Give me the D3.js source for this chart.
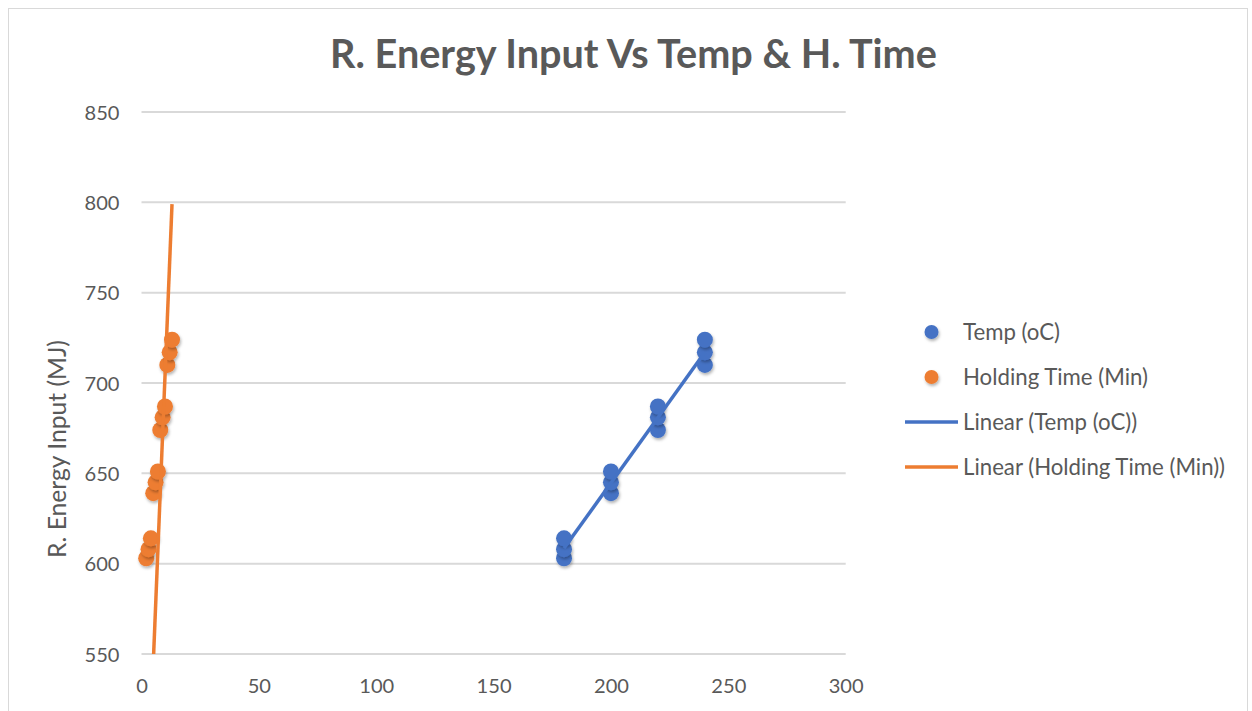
<!DOCTYPE html>
<html>
<head>
<meta charset="utf-8">
<script src="https://cdn.jsdelivr.net/npm/d3@7/dist/d3.min.js"></script>
<style>
  body { margin: 0; background: #fff; }
  text { font-family: Lato, "Open Sans", sans-serif; fill: #595959; }
</style>
</head>
<body>
<div id="vis"></div>
<script>
// Data
var energy = [603, 608, 614, 639, 645, 651, 674, 681, 687, 710, 717, 724];
var temps = [180, 180, 180, 200, 200, 200, 220, 220, 220, 240, 240, 240];
var holdTimes = [2, 3, 4, 5, 6, 7, 8, 9, 10, 11, 12, 13];
var xTicks = [0, 50, 100, 150, 200, 250, 300];
var yTicks = [550, 600, 650, 700, 750, 800, 850];
// holding time trendline as drawn in the chart (end points)
var holdTrendX = [2, 13];
var holdTrendY = [449, 799];
var seriesNames = ['Temp (oC)', 'Holding Time (Min)'];
var trendNames = ['Linear (Temp (oC))', 'Linear (Holding Time (Min))'];

var blue = '#4472C4', orange = '#ED7D31';

var width = 1252, height = 711;
var margin = { top: 112, right: 406, bottom: 57, left: 141.5 };
var drawWidth = 845.7 - margin.left;
var drawHeight = 654 - margin.top;

var svg = d3.select('#vis').append('svg')
    .attr('width', width)
    .attr('height', height);

// chart border
svg.append('rect')
    .attr('x', 8.5).attr('y', 8.5)
    .attr('width', 1239).attr('height', 720)
    .attr('fill', 'none')
    .attr('stroke', '#d9d9d9')
    .attr('stroke-width', 1);

var defs = svg.append('defs');
var shadow = defs.append('filter').attr('id', 'shadow')
    .attr('x', '-50%').attr('y', '-50%').attr('width', '200%').attr('height', '200%');
shadow.append('feDropShadow')
    .attr('dx', 1).attr('dy', 2).attr('stdDeviation', 1.5)
    .attr('flood-color', '#000').attr('flood-opacity', 0.3);
defs.append('clipPath').attr('id', 'plotClip')
    .append('rect').attr('x', 0).attr('y', 0).attr('width', drawWidth).attr('height', drawHeight);

// fit a text's font size so it spans a given width
function fitSize(str, targetWidth, weight) {
    var t = svg.append('text').attr('font-size', 20).attr('font-weight', weight || 'normal').text(str);
    var len = t.node().getComputedTextLength();
    t.remove();
    return 20 * targetWidth / len;
}

var g = svg.append('g')
    .attr('transform', 'translate(' + margin.left + ',' + margin.top + ')');

var xScale = d3.scaleLinear().domain([0, 300]).range([0, drawWidth]);
var yScale = d3.scaleLinear().domain([550, 850]).range([drawHeight, 0]);

// gridlines
g.selectAll('.grid').data(yTicks).enter().append('line')
    .attr('x1', 0).attr('x2', drawWidth)
    .attr('y1', function(d) { return yScale(d); })
    .attr('y2', function(d) { return yScale(d); })
    .attr('stroke', '#d9d9d9')
    .attr('stroke-width', 2);

var tickSize = fitSize('300', 35);

// axes (labels only)
var xAxis = d3.axisBottom(xScale).tickValues(xTicks).tickSize(0).tickPadding(0);
var gX = g.append('g').attr('transform', 'translate(0,' + drawHeight + ')').call(xAxis);
gX.select('.domain').remove();
gX.selectAll('text')
    .attr('y', 39).attr('dy', 0)
    .attr('font-size', tickSize)
    .attr('font-family', null)
    .style('fill', '#595959');

var yAxis = d3.axisLeft(yScale).tickValues(yTicks).tickSize(0).tickPadding(0);
var gY = g.append('g').call(yAxis);
gY.select('.domain').remove();
gY.selectAll('text')
    .attr('x', -22).attr('dy', '0.35em')
    .attr('font-size', tickSize)
    .attr('font-family', null)
    .style('fill', '#595959');

// y axis title
var axisTitleSize = fitSize('R. Energy Input (MJ)', 218);
svg.append('text')
    .attr('transform', 'translate(66,449) rotate(-90)')
    .attr('text-anchor', 'middle')
    .attr('font-size', axisTitleSize)
    .text('R. Energy Input (MJ)');

// chart title
var titleSize = fitSize('R. Energy Input Vs Temp & H. Time', 607, 'bold');
svg.append('text')
    .attr('x', 633.5).attr('y', 68)
    .attr('text-anchor', 'middle')
    .attr('font-weight', 'bold')
    .attr('font-size', titleSize)
    .text('R. Energy Input Vs Temp & H. Time');

// points
var tempPts = temps.map(function(t, i) { return { x: t, y: energy[i] }; });
var holdPts = holdTimes.map(function(h, i) { return { x: h, y: energy[i] }; });

g.append('g').selectAll('circle').data(tempPts).enter().append('circle')
    .attr('cx', function(d) { return xScale(d.x); })
    .attr('cy', function(d) { return yScale(d.y); })
    .attr('r', 8)
    .attr('fill', blue)
    .attr('filter', 'url(#shadow)');

g.append('g').selectAll('circle').data(holdPts).enter().append('circle')
    .attr('cx', function(d) { return xScale(d.x); })
    .attr('cy', function(d) { return yScale(d.y); })
    .attr('r', 8)
    .attr('fill', orange)
    .attr('filter', 'url(#shadow)');

// least squares trend for temperature series
var mx = d3.mean(temps), my = d3.mean(energy);
var slope = d3.sum(temps, function(t, i) { return (t - mx) * (energy[i] - my); }) /
            d3.sum(temps, function(t) { return (t - mx) * (t - mx); });
var tx = d3.extent(temps);
var tempTrend = tx.map(function(x) { return { x: x, y: my + slope * (x - mx) }; });
var holdTrend = holdTrendX.map(function(x, i) { return { x: x, y: holdTrendY[i] }; });

var line = d3.line()
    .x(function(d) { return xScale(d.x); })
    .y(function(d) { return yScale(d.y); });

var trends = g.append('g').attr('clip-path', 'url(#plotClip)');
trends.append('path').datum(tempTrend)
    .attr('d', line).attr('fill', 'none')
    .attr('stroke', blue).attr('stroke-width', 3.5);
trends.append('path').datum(holdTrend)
    .attr('d', line).attr('fill', 'none')
    .attr('stroke', orange).attr('stroke-width', 3.5);

// legend
var legendSize = fitSize('Holding Time (Min)', 185);
var legendY = [332, 377, 422, 467];
var legend = svg.append('g');
[blue, orange].forEach(function(c, i) {
    legend.append('circle')
        .attr('cx', 931.5).attr('cy', legendY[i]).attr('r', 7)
        .attr('fill', c)
        .attr('filter', 'url(#shadow)');
    legend.append('text')
        .attr('x', 963).attr('y', legendY[i]).attr('dy', '0.35em')
        .attr('font-size', legendSize)
        .text(seriesNames[i]);
});
[blue, orange].forEach(function(c, i) {
    legend.append('line')
        .attr('x1', 905).attr('x2', 958)
        .attr('y1', legendY[i + 2]).attr('y2', legendY[i + 2])
        .attr('stroke', c).attr('stroke-width', 3.5);
    legend.append('text')
        .attr('x', 963).attr('y', legendY[i + 2]).attr('dy', '0.35em')
        .attr('font-size', legendSize)
        .text(trendNames[i]);
});
</script>
</body>
</html>
